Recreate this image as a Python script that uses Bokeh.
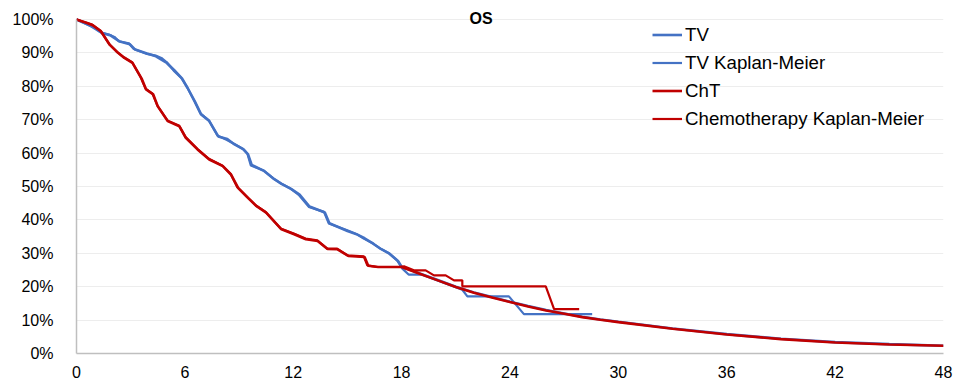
from bokeh.plotting import figure
from bokeh.models import Legend, LegendItem, FixedTicker, Label, Range1d
from bokeh.embed import file_html
from bokeh.resources import INLINE

# ---- data (months, survival %) ----
tv_km_t = [0, 0.4, 0.8, 1.33, 1.8, 2.1, 2.34, 2.9, 3.17, 3.5, 3.9, 4.38, 4.7, 5.0, 5.38, 5.8,
           6.13, 6.5, 6.87, 7.33, 7.8, 8.3, 8.72, 9.2, 9.46, 9.65, 10.37, 10.93, 11.3, 11.85,
           12.3, 12.86, 13.7, 13.97, 14.99, 15.5, 15.9, 16.4, 16.83, 17.3, 17.75, 18.04, 18.4,
           19.14, 21.36, 21.64, 23.94, 24.77, 28.55]
tv_km_s = [100, 99.0, 98.0, 96.2, 95.5, 94.8, 93.5, 92.9, 91.2, 90.5, 89.7, 89.2, 88.5, 87.2,
           84.7, 82.5, 79.7, 75.8, 71.8, 69.8, 65.3, 64.0, 62.8, 61.3, 59.8, 56.3, 54.8, 52.3,
           51.0, 49.4, 47.5, 43.9, 42.4, 38.9, 36.9, 35.8, 34.4, 33.0, 31.4, 30.0, 27.9, 25.4,
           23.6, 23.6, 19.1, 17.1, 17.1, 11.8, 11.8]

cht_km_t = [0, 0.5, 0.87, 1.33, 1.8, 2.2, 2.63, 3.08, 3.55, 3.82, 4.2, 4.47, 5.03, 5.67, 6.04,
            6.69, 7.33, 8.07, 8.53, 8.9, 9.45, 9.91, 10.47, 11.3, 12.03, 12.68, 13.33, 13.88,
            14.43, 15.0, 15.9, 16.1, 16.64, 17.85, 18.13, 18.68, 19.33, 19.79, 20.44, 20.9,
            21.36, 21.36, 25.98, 26.44, 27.83]
cht_km_s = [100, 99.2, 98.5, 96.7, 92.7, 90.5, 88.7, 87.2, 82.7, 79.3, 77.8, 74.3, 69.8, 68.3,
            64.8, 61.3, 58.3, 56.3, 53.8, 49.8, 46.8, 44.4, 42.4, 37.4, 35.9, 34.4, 33.9, 31.4,
            31.4, 29.4, 29.1, 26.4, 25.9, 25.9, 26.1, 24.9, 24.9, 23.4, 23.4, 21.9, 21.9, 20.1,
            20.1, 13.3, 13.3]

# fitted curves: closely follow the KM estimate early, then the smooth extrapolation
tv_fit_t = [0, 0.5, 1.0, 1.4, 1.9, 2.4, 2.95, 3.25, 3.9, 4.4, 5.0, 5.4, 5.85, 6.15, 6.55, 6.9,
            7.35, 7.85, 8.35, 8.75, 9.25, 9.5, 9.7, 10.4, 10.95, 11.35, 11.9, 12.35, 12.9,
            13.75, 14.0, 15.0, 15.55, 15.95, 16.45, 16.85, 17.35, 17.8, 18.0, 19, 20, 21, 22, 23,
            24, 25, 26, 27, 28, 29, 30, 33, 36, 39, 42, 45, 48]
tv_fit_s = [100, 98.8, 97.6, 96.0, 95.2, 93.4, 92.6, 91.0, 89.8, 89.0, 87.0, 84.9, 82.3, 79.5,
            75.5, 71.6, 69.6, 65.0, 64.2, 62.6, 61.1, 59.6, 56.5, 54.6, 52.2, 50.8, 49.2, 47.6,
            44.0, 42.2, 39.0, 36.7, 35.6, 34.5, 32.8, 31.3, 29.8, 27.7, 26.0, 24.0, 22.0, 20.0,
            18.3, 16.9, 15.5, 14.2, 13.0, 12.0, 11.0, 10.2, 9.5, 7.5, 5.8, 4.4, 3.4, 2.8, 2.3]

cht_fit_t = [0, 0.55, 0.9, 1.35, 1.85, 2.25, 2.65, 3.1, 3.6, 3.85, 4.25, 4.5, 5.05, 5.7, 6.05,
             6.7, 7.35, 8.1, 8.55, 8.95, 9.5, 9.95, 10.5, 11.35, 12.05, 12.7, 13.35, 13.9, 14.45,
             15.05, 15.95, 16.15, 16.7, 17.3, 18, 19, 20, 21, 22, 23, 24, 25, 26, 27, 28, 29, 30,
             33, 36, 39, 42, 45, 48]
cht_fit_s = [100, 99.0, 98.3, 96.5, 92.4, 90.3, 88.5, 87.0, 82.4, 79.1, 77.6, 74.0, 69.6, 68.0,
             64.6, 61.1, 58.1, 56.1, 53.6, 49.6, 46.6, 44.2, 42.2, 37.2, 35.7, 34.2, 33.7, 31.3,
             31.2, 29.2, 28.9, 26.3, 25.9, 25.9, 25.9, 23.9, 21.9, 19.9, 18.2, 16.8, 15.4, 14.1,
             12.9, 11.9, 10.9, 10.1, 9.4, 7.4, 5.7, 4.3, 3.3, 2.7, 2.3]

x_ticks = [0, 6, 12, 18, 24, 30, 36, 42, 48]
y_ticks = [0, 10, 20, 30, 40, 50, 60, 70, 80, 90, 100]
y_tick_labels = {v: f"{v}%" for v in y_ticks}
series_names = ["TV", "TV Kaplan-Meier", "ChT", "Chemotherapy Kaplan-Meier"]
title_text = "OS"

BLUE = "#4472C4"
RED = "#C00000"
FONT = "Liberation Sans"

Y_TOP = 105.1  # headroom above 100% so the title fits inside the frame

p = figure(width=957, height=385, output_backend="svg", toolbar_location=None,
           x_range=Range1d(0, 48), y_range=Range1d(0, Y_TOP),
           min_border_left=76, min_border_right=14, min_border_top=2, min_border_bottom=32)
p.outline_line_color = None
p.background_fill_color = "white"
p.border_fill_color = "white"

r1 = p.line(tv_fit_t, tv_fit_s, line_color=BLUE, line_width=2.6)
r2 = p.line(tv_km_t, tv_km_s, line_color=BLUE, line_width=2.2)
r3 = p.line(cht_fit_t, cht_fit_s, line_color=RED, line_width=2.6)
r4 = p.line(cht_km_t, cht_km_s, line_color=RED, line_width=2.2)

# axes
p.xaxis.ticker = FixedTicker(ticks=x_ticks)
p.yaxis.ticker = FixedTicker(ticks=y_ticks)
p.yaxis.major_label_overrides = y_tick_labels
p.yaxis.bounds = (0, 100)
for ax in (p.xaxis[0], p.yaxis[0]):
    ax.axis_line_color = "#BFBFBF"
    ax.axis_line_width = 1.5
    ax.major_tick_line_color = None
    ax.minor_tick_line_color = None
    ax.major_label_text_font = FONT
    ax.major_label_text_font_size = "16px"
    ax.major_label_text_color = "#000000"
p.yaxis.major_label_standoff = 17
p.xaxis.major_label_standoff = 6
p.xgrid.grid_line_color = None
p.ygrid.grid_line_color = "#EDEDED"
p.ygrid.grid_line_width = 1

# title
p.add_layout(Label(x=22.4, y=100.4, text=title_text, text_font=FONT, text_font_size="16px",
                   text_font_style="bold", text_align="center", text_baseline="middle",
                   text_color="#000000"))

legend = Legend(items=[LegendItem(label=series_names[0], renderers=[r1]),
                       LegendItem(label=series_names[1], renderers=[r2]),
                       LegendItem(label=series_names[2], renderers=[r3]),
                       LegendItem(label=series_names[3], renderers=[r4])],
                location=(576, 222), background_fill_alpha=0, border_line_color=None,
                padding=0, margin=0, spacing=3, glyph_width=30, glyph_height=25,
                label_height=25, label_standoff=3, label_text_font=FONT,
                label_text_font_size="18.7px", label_text_color="#000000")
p.add_layout(legend, "center")

open("out.html", "w").write(file_html(p, INLINE))
